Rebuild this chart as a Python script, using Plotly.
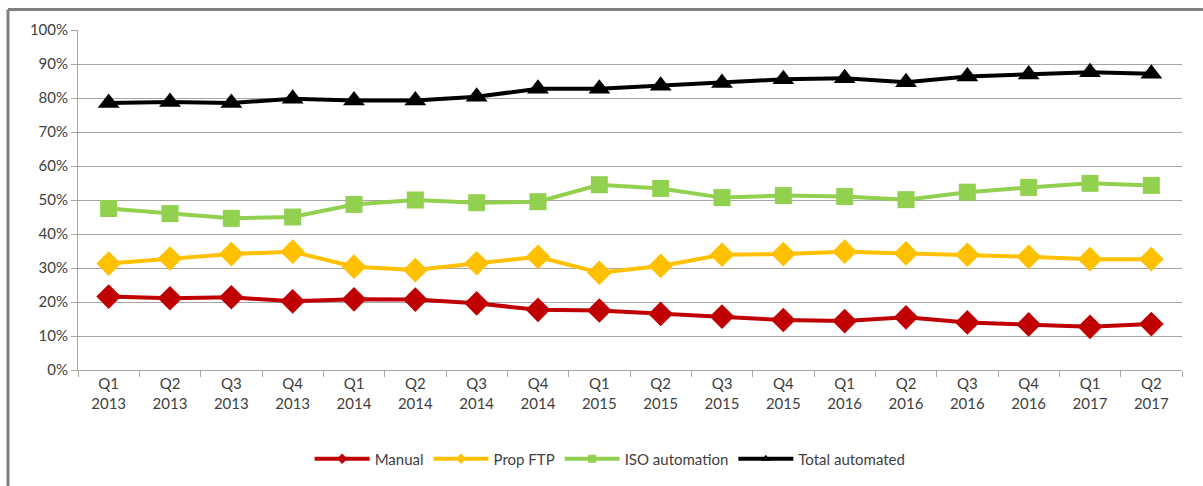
import plotly.graph_objects as go

categories = ["Q1<br>2013", "Q2<br>2013", "Q3<br>2013", "Q4<br>2013",
              "Q1<br>2014", "Q2<br>2014", "Q3<br>2014", "Q4<br>2014",
              "Q1<br>2015", "Q2<br>2015", "Q3<br>2015", "Q4<br>2015",
              "Q1<br>2016", "Q2<br>2016", "Q3<br>2016", "Q4<br>2016",
              "Q1<br>2017", "Q2<br>2017"]

manual = [21.6, 21.1, 21.4, 20.2, 20.8, 20.7, 19.6, 17.7, 17.5,
          16.5, 15.7, 14.7, 14.4, 15.5, 14.0, 13.4, 12.7, 13.5]
prop_ftp = [31.3, 32.8, 34.1, 34.8, 30.4, 29.4, 31.4, 33.3, 28.6,
            30.6, 33.9, 34.1, 34.8, 34.3, 33.9, 33.3, 32.6, 32.6]
iso_automation = [47.5, 46.0, 44.6, 45.0, 48.7, 50.0, 49.2, 49.5, 54.5,
                  53.4, 50.7, 51.3, 51.0, 50.1, 52.3, 53.7, 54.9, 54.3]
total_automated = [78.5, 78.8, 78.5, 79.8, 79.3, 79.3, 80.4, 82.7, 82.7,
                   83.6, 84.4, 85.5, 85.8, 84.6, 86.3, 86.9, 87.6, 87.1]

series = [
    ("Manual", manual, "#C00000", "diamond", 19),
    ("Prop FTP", prop_ftp, "#FFC000", "diamond", 19),
    ("ISO automation", iso_automation, "#92D050", "square", 17),
    ("Total automated", total_automated, "#000000", "triangle-up", 19),
]

fig = go.Figure()
for name, vals, color, symbol, size in series:
    fig.add_trace(go.Scatter(
        x=categories, y=[v / 100 for v in vals], name=name, mode="lines+markers",
        line=dict(color=color, width=4),
        marker=dict(symbol=symbol, size=size, color=color),
        showlegend=False,
    ))
# legend entries with small markers, as in the reference legend
for name, vals, color, symbol, size in series:
    fig.add_trace(go.Scatter(
        x=[categories[0]], y=[None], name=name, mode="lines+markers",
        line=dict(color=color, width=4),
        marker=dict(symbol=symbol, size=8, color=color),
        showlegend=True, hoverinfo="skip",
    ))

border = dict(color="#808080", width=3)
fig.update_layout(
    width=1203, height=486,
    margin=dict(l=78, r=21, t=30, b=115),
    paper_bgcolor="white", plot_bgcolor="white",
    font=dict(family="Lato, Open Sans, sans-serif", size=15, color="#404040"),
    showlegend=True,
    legend=dict(orientation="h", x=0.482, xanchor="center", y=-0.258, yanchor="middle",
                font=dict(size=15, color="#404040"), itemwidth=55,
                traceorder="normal"),
    shapes=[
        dict(type="line", xref="paper", yref="paper",
             x0=-0.0634, x1=-0.0634, y0=-0.40, y1=1.06, line=border, layer="above"),
        dict(type="line", xref="paper", yref="paper",
             x0=-0.0634, x1=1.019, y0=1.06, y1=1.06, line=border, layer="above"),
    ],
)
fig.update_xaxes(type="category", range=[-0.5, len(categories) - 0.5],
                 showline=True, linecolor="#A6A6A6", linewidth=1,
                 ticks="outside", tickson="boundaries", ticklen=6, tickcolor="#A6A6A6",
                 showgrid=False, tickfont=dict(size=15, color="#404040"))
fig.update_yaxes(range=[0, 1], tickformat=".0%", dtick=0.1, showline=True,
                 linecolor="#A6A6A6", linewidth=1, ticks="outside", ticklen=6,
                 tickcolor="#A6A6A6", gridcolor="#A6A6A6", gridwidth=1,
                 zeroline=False, tickfont=dict(size=15, color="#404040"))

fig.write_html("out.html", config={"displayModeBar": False},
               post_script="document.body.style.margin='0';")
